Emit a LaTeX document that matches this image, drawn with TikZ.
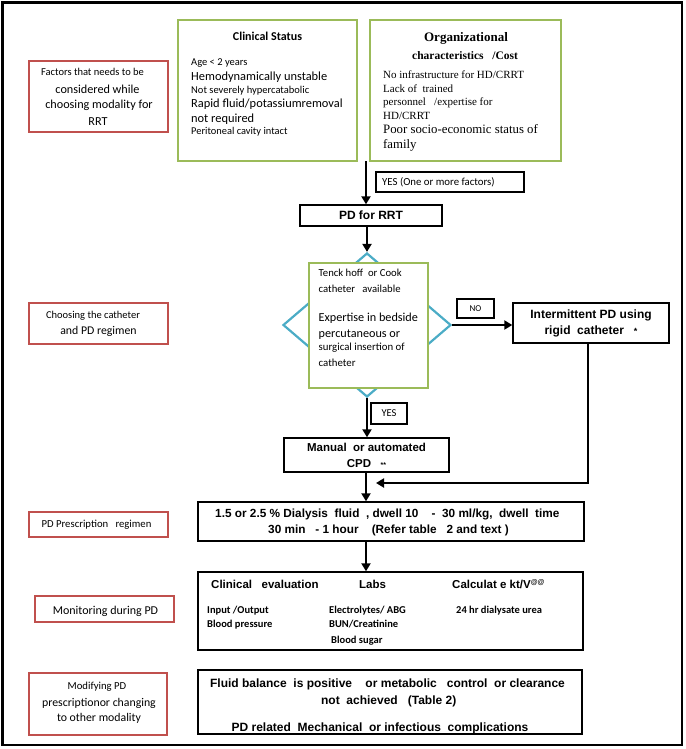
\documentclass[tikz,border=0pt]{standalone}
\usepackage{fontspec}
\setmainfont{Carlito}
\newfontfamily\arialf{Liberation Sans}
\newfontfamily\serf{Liberation Serif}
\usetikzlibrary{arrows.meta,shapes.geometric}
\definecolor{gr}{HTML}{9BBB59}
\definecolor{rd}{HTML}{C0504D}
\definecolor{bl}{HTML}{4BACC6}
\newcommand\fs[1]{\fontsize{#1}{#1}\selectfont}
\begin{document}
\begin{tikzpicture}[x=1pt,y=-1pt,
 box/.style={draw,rectangle,inner sep=0pt},
 gbox/.style={box,draw=gr,line width=2.5pt,fill=white},
 rbox/.style={box,draw=rd,line width=2.2pt},
 kbox/.style={box,draw=black,line width=1.4pt,align=center},
 arr/.style={line width=2.6pt,-{Triangle[length=8pt,width=9pt]}},
 lt/.style={inner sep=0pt,anchor=base west},
 ct/.style={inner sep=0pt,anchor=base},
 ar/.style={font=\arialf\bfseries\fontsize{#1}{16}\selectfont},
]
\useasboundingbox (0,0) rectangle (685,749);
\node[draw,line width=2.5pt,minimum width=679.5pt,minimum height=742.5pt,inner sep=0pt] (frame) at (342.25,373.75) {};

% ---- row 1
\node[gbox,minimum width=179pt,minimum height=141pt] (clin) at (267.5,90.5) {};
\node[gbox,minimum width=191pt,minimum height=141pt] (org) at (465.5,90.5) {};
\node[rbox,minimum width=139pt,minimum height=71pt] (r1) at (98.5,96.5) {};

\node[ct,font=\bfseries\fs{12}] (c0) at (267.5,41) {Clinical Status};
\node[lt,font=\fs{10.5}] (c1) at (191,65.5) {Age < 2 years};
\node[lt,font=\fs{12.4}] (c2) at (191,81) {Hemodynamically unstable};
\node[lt,font=\fs{10.5}] (c3) at (191,93.3) {Not severely hypercatabolic};
\node[lt,font=\fs{12.4}] (c4) at (191,108) {Rapid fluid/potassiumremoval};
\node[lt,font=\fs{12.4}] (c5) at (191,122) {not required};
\node[lt,font=\fs{10.4}] (c6) at (191,134.3) {Peritoneal cavity intact};

\node[ct,font=\serf\bfseries\fs{13}] (o0) at (466,41.3) {Organizational};
\node[ct,font=\serf\bfseries\fs{11.5}] (o1) at (465,59.5) {characteristics~~~/Cost};
\node[lt,font=\serf\fs{11}] (o2) at (383,78.5) {No infrastructure for HD/CRRT};
\node[lt,font=\serf\fs{11}] (o3) at (383,92.5) {Lack of~ trained};
\node[lt,font=\serf\fs{11}] (o4) at (383,105.5) {personnel~~~/expertise for};
\node[lt,font=\serf\fs{11}] (o5) at (383,119.5) {HD/CRRT};
\node[lt,font=\serf\fs{12.8}] (o6) at (383,134) {Poor socio-economic status of};
\node[lt,font=\serf\fs{12.8}] (o7) at (383,148) {family};

\node[ct,font=\fs{10.5}] (f1) at (92.5,75.3) {Factors that needs to be};
\node[ct,font=\fs{12.2}] (f2) at (97.5,94) {considered while};
\node[ct,font=\fs{12.2}] (f3) at (99,109) {choosing modality for};
\node[ct,font=\fs{12.2}] (f4) at (98,125) {RRT};

\coordinate (split) at (366,161);
\node[kbox,minimum width=148pt,minimum height=20pt] (yes1) at (450,182) {};
\node[lt,font=\fs{10.8}] (y1) at (382,185.5) {YES (One or more factors)};

\node[kbox,ar=12,minimum width=142pt,minimum height=21pt] (pd) at (371,215.5) {PD for RRT};
\draw[arr] (split) -- (split |- pd.north);

% ---- decision
\node[draw=bl,line width=2.2pt,diamond,minimum width=168pt,minimum height=144pt,inner sep=0pt] (dia) at (367,325) {};
\node[gbox,minimum width=119pt,minimum height=125pt] (cath) at (368.5,325.5) {};
\draw[arr] (dia.north |- pd.south) -- (dia.north);

\node[lt,font=\fs{10.7}] (d1) at (318.5,276.5) {Tenck hoff~ or Cook};
\node[lt,font=\fs{10.7}] (d2) at (318.5,292.5) {catheter~~ available};
\node[lt,font=\fs{12.2}] (d3) at (318.5,321) {Expertise in bedside};
\node[lt,font=\fs{12.2}] (d4) at (318.5,337) {percutaneous or};
\node[lt,font=\fs{10.8}] (d5) at (318.5,350.5) {surgical insertion of};
\node[lt,font=\fs{10.8}] (d6) at (318.5,366.5) {catheter};

\node[rbox,minimum width=139pt,minimum height=41pt] (r2) at (98.5,323.5) {};
\node[ct,font=\fs{10.5}] (ch1) at (93,318.3) {Choosing the catheter};
\node[ct,font=\fs{11.8}] (ch2) at (98.5,334.8) {and PD regimen};

\node[kbox,font=\fs{9},minimum width=37pt,minimum height=19pt] (no) at (475.5,308.5) {NO};
\node[kbox,ar=12,minimum width=156pt,minimum height=40pt] (inter) at (591,323) {Intermittent PD using\\rigid~ catheter~~ {\fs{9}*}};
\draw[arr] (dia.east) -- (dia.east -| inter.west);

\node[kbox,font=\fs{10.5},minimum width=36pt,minimum height=21pt] (yes2) at (389,413.5) {YES};
\node[kbox,ar=11.5,minimum width=165pt,minimum height=34pt] (man) at (366.5,455) {\fontsize{11.5}{14}\selectfont Manual~ or automated\\CPD~~ {\fs{7}**}};
\draw[arr] (dia.south) -- (dia.south |- man.north);

\coordinate (ret) at (376,483);
\draw[arr] ([xshift=-3pt]inter.south) |- (ret);

% ---- prescription
\node[kbox,minimum width=386pt,minimum height=39pt] (dial) at (391,521.5) {};
\node[lt,font=\arialf\bfseries\fs{11.8}] (dl1) at (215,517) {1.5 or 2.5 \% Dialysis~ fluid~ , dwell 10~~~ -~ 30 ml/kg,~ dwell~ time};
\node[lt,font=\arialf\bfseries\fs{11.8}] (dl2) at (268,533) {30 min~~ - 1 hour~~~ (Refer table~~ 2 and text )};
\draw[arr] (man.south -| split) -- (split |- dial.north);
\node[rbox,minimum width=139pt,minimum height=25pt] (r3) at (98.5,524.5) {};
\node[ct,font=\fs{10.7}] (p1) at (96.5,527.5) {PD Prescription~~ regimen};

% ---- monitoring
\node[kbox,minimum width=385pt,minimum height=78pt] (mon) at (390.5,611) {};
\draw[arr] (dial.south -| split) -- (split |- mon.north);
\node[lt,font=\arialf\bfseries\fs{11.5}] (m1) at (211,588) {Clinical~~ evaluation};
\node[lt,font=\arialf\bfseries\fs{11.5}] (m2) at (359,588) {Labs};
\node[lt,font=\arialf\bfseries\fs{11.5}] (m3) at (452,588) {Calculat e kt/V\raisebox{4pt}{\fs{7}@@}};
\node[lt,font=\bfseries\fs{10.5}] (m4) at (207,613.5) {Input /Output};
\node[lt,font=\bfseries\fs{10.5}] (m5) at (207,627.5) {Blood pressure};
\node[lt,font=\bfseries\fs{10.5}] (m6) at (329,613.5) {Electrolytes/ ABG};
\node[lt,font=\bfseries\fs{10.5}] (m7) at (329,627.5) {BUN/Creatinine};
\node[lt,font=\bfseries\fs{10.5}] (m8) at (331,643.5) {Blood sugar};
\node[lt,font=\bfseries\fs{10.5}] (m9) at (456,613.5) {24 hr dialysate urea};
\node[rbox,minimum width=139pt,minimum height=26pt] (r4) at (104.5,609) {};
\node[ct,font=\fs{12}] (mt) at (105.5,614) {Monitoring during PD};

% ---- modifying
\node[kbox,minimum width=384pt,minimum height=64pt] (mod) at (390,702) {};
\node[ct,font=\arialf\bfseries\fs{12}] (q1) at (387.5,687) {Fluid balance~ is positive~~~ or metabolic~~ control~ or clearance};
\node[ct,font=\arialf\bfseries\fs{12}] (q2) at (388.7,704) {not~ achieved~~ (Table 2)};
\node[ct,font=\arialf\bfseries\fs{12}] (q3) at (380,731) {PD related~ Mechanical~ or infectious~ complications};
\node[rbox,minimum width=138pt,minimum height=62pt] (r5) at (98,704) {};
\node[ct,font=\fs{10.7}] (s1) at (97,689.5) {Modifying PD};
\node[ct,font=\fs{11.8}] (s2) at (99,706) {prescriptionor changing};
\node[ct,font=\fs{11.8}] (s3) at (99,721) {to other modality};
\end{tikzpicture}
\end{document}
